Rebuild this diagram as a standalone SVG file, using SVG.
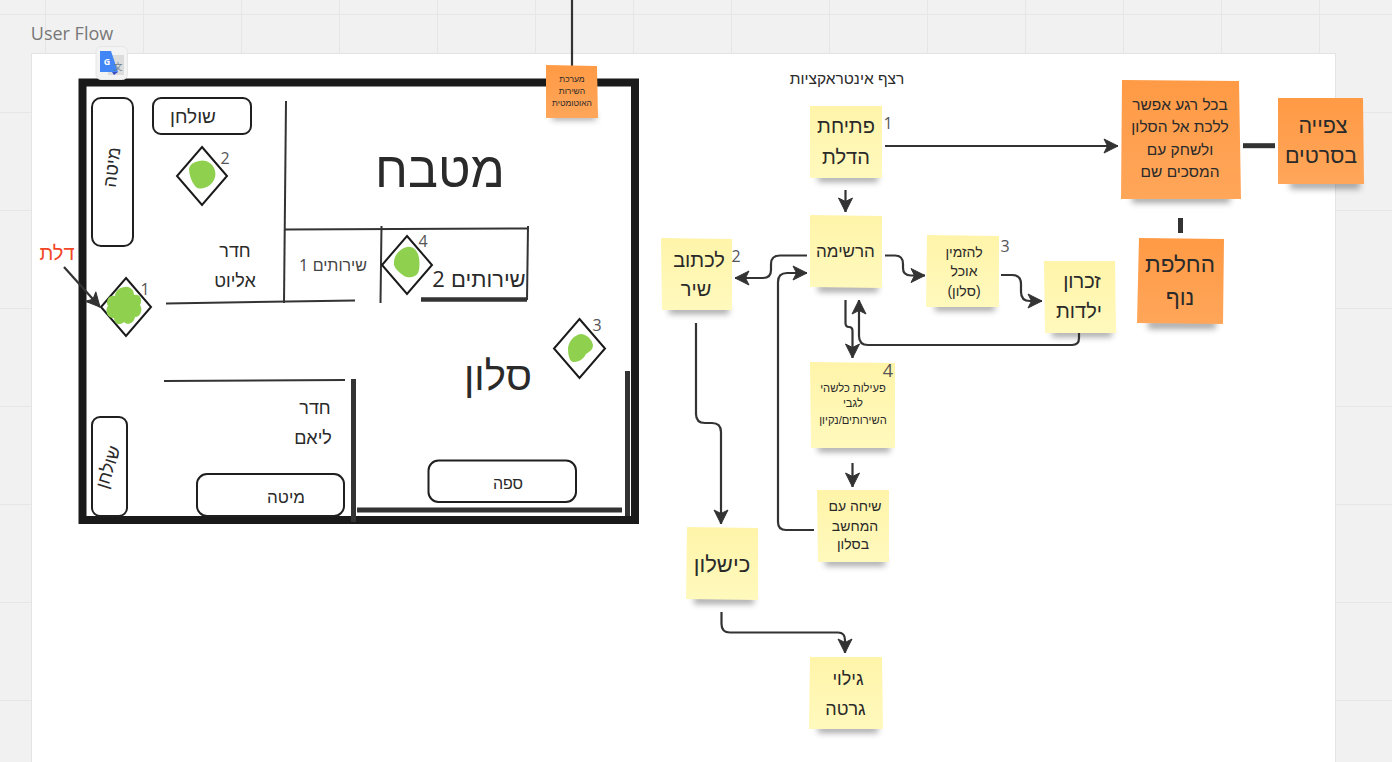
<svg xmlns="http://www.w3.org/2000/svg" width="1392" height="762" viewBox="0 0 1392 762">
<defs>
<pattern id="grid" x="45" y="14" width="98" height="98" patternUnits="userSpaceOnUse"><path d="M0 0H98M0 0V98" fill="none" stroke="#e6e6e6" stroke-width="2"/></pattern>
<linearGradient id="y" x1="0" y1="0" x2="0" y2="1"><stop offset="0" stop-color="#fff4a9"/><stop offset="1" stop-color="#fff9bd"/></linearGradient>
<linearGradient id="o" x1="0" y1="0" x2="0" y2="1"><stop offset="0" stop-color="#ff9a45"/><stop offset="1" stop-color="#ffa65a"/></linearGradient>
<filter id="blur" x="-20%" y="-100%" width="140%" height="300%"><feGaussianBlur stdDeviation="3"/></filter>
<marker id="a" markerUnits="userSpaceOnUse" viewBox="0 0 16 16" refX="15" refY="8" markerWidth="16" markerHeight="16" orient="auto-start-reverse"><path d="M1 1 L15 8 L1 15 L4.500 8 Z" fill="#333" stroke="#333" stroke-linejoin="round"/></marker>
<style>
.t{font-family:"Liberation Sans","Noto Sans",sans-serif;direction:rtl;text-anchor:middle;fill:#2a2a2a}
.n{font-family:"Open Sans","Noto Sans",sans-serif;font-size:16px;fill:#555;text-anchor:middle}
.d0{font-family:"Open Sans","Noto Sans",sans-serif}
.w{fill:none;stroke:#333;stroke-width:2}
.wk{fill:none;stroke:#333;stroke-width:5}
.b{fill:#fff;stroke:#1f1f1f;stroke-width:2}
.d{fill:#fff;stroke:#1a1a1a;stroke-width:2}
.g{fill:#8fd14f}
.c{fill:none;stroke:#333;stroke-width:2.2}
.s{fill:#333;opacity:.42;filter:url(#blur)}
.ny{fill:url(#y)}
.no{fill:url(#o)}
</style>
</defs>
<rect width="1392" height="762" fill="#f1f1f1"/>
<rect width="1392" height="762" fill="url(#grid)"/>
<rect x="31.5" y="53.5" width="1304" height="720" fill="#fff" stroke="#e4e4e4"/>
<text x="72" y="40" style="font-family:'Open Sans','Noto Sans',sans-serif;font-size:18px;fill:#777;text-anchor:middle">User Flow</text>

<g id="floorplan">
<rect x="82.5" y="82.5" width="552.5" height="437.5" fill="none" stroke="#1a1a1a" stroke-width="8"/>
<path class="w" d="M286 101L284 303"/>
<path class="w" d="M285 229.5L528 228.5"/>
<path class="w" d="M381.500 226L380.500 303"/>
<path class="w" d="M528 226L527 300"/>
<path class="w" d="M166 303.500L355 300.500"/>
<path class="w" d="M164 381L345 380"/>
<path d="M421 299.500H527" fill="none" stroke="#333" stroke-width="4.500"/>
<path class="wk" d="M353.500 379V522"/>
<path class="wk" d="M357 510H622"/>
<path class="wk" d="M627.500 371V516"/>
</g>
<g id="bed-left"><rect class="b" x="92" y="98" width="41" height="148" rx="9"/><text class="t" transform="translate(118 168) rotate(-83)" font-size="18">מיטה</text></g>
<g id="table-top"><rect class="b" x="153" y="98" width="98" height="36" rx="8"/><text class="t" x="193" y="123" font-size="19">שולחן</text></g>
<g id="table-bottom"><rect class="b" x="92" y="417" width="35" height="99" rx="8"/><text class="t" transform="translate(114 469) rotate(-72)" font-size="18">שולחן</text></g>
<g id="bed-bottom"><rect class="b" x="197" y="474" width="147" height="42" rx="10"/><text class="t" x="286" y="503" font-size="17">מיטה</text></g>
<g id="sofa"><rect class="b" x="428.500" y="460.500" width="147.500" height="41.500" rx="10"/><text class="t" x="508" y="489" font-size="16">ספה</text></g>
<g id="room-labels">
<text class="t" x="235" y="257" font-size="18">חדר</text><text class="t" x="235" y="287" font-size="18">אליוט</text>
<text class="t" x="315" y="414" font-size="18">חדר</text><text class="t" x="313" y="444" font-size="18">ליאם</text>
<text class="t" x="440" y="187" font-size="50">מטבח</text>
<text class="t" x="498" y="390" font-size="40">סלון</text>
<text class="t" x="333" y="271" font-size="16" style="fill:#444">שירותים <tspan class="d0">1</tspan></text>
<text class="t" x="479" y="287" font-size="22">שירותים <tspan class="d0">2</tspan></text>
<text class="t" x="57" y="260" font-size="20" style="fill:#f24726">דלת</text>
</g>
<g id="spot-1"><path class="d" d="M126 278L151 307L126 336L101 307Z"/><path class="g" d="M125 287C130 286 134 290 134 295C140 293 143 300 140 305C143 309 141 317 135 317C134 323 128 326 124 322C120 326 114 324 114 318C108 319 104 311 108 306C105 301 109 294 115 296C115 291 120 287 125 287Z"/><text class="n" x="145" y="295">1</text></g>
<g id="spot-2"><path class="d" d="M202 147L227 176L202 205L177 176Z"/><path class="g" d="M199 161C205 159 212 163 214 168C217 174 215 181 210 185C205 189 198 190 195 186C191 181 189 174 189 169C190 164 194 162 199 161Z"/><text class="n" x="225" y="164">2</text></g>
<g id="spot-3"><path class="d" d="M579.500 319L605 348.500L579.500 378L554 348.500Z"/><path class="g" d="M581 334C586 334 592 339 593 345C593 350 589 352 586 354C584 358 580 362 574 362C569 362 568 354 568 348C569 341 574 335 581 334Z"/><text class="n" x="597" y="331">3</text></g>
<g id="spot-4"><path class="d" d="M407 236L432 265L407 294L382 265Z"/><path class="g" d="M407 247C412 246 416 249 418 254C420 260 420 268 418 273C415 278 408 278 404 276C399 272 393 268 394 262C394 255 401 248 407 247Z"/><text class="n" x="423" y="247">4</text></g>

<g id="translate-icon">
<rect x="96" y="46.500" width="31.500" height="33" rx="5" fill="#f3f3f3" stroke="#e6e6e6"/>
<rect x="108" y="55" width="16" height="20" fill="#dcdcdc"/>
<path d="M100 51H111L118 72H100Z" fill="#4285f4"/>
<path d="M112 72H118L114 75Z" fill="#3b4fc4"/>
<text x="107" y="65" style="font-family:'Open Sans','Noto Sans',sans-serif;font-size:9px;font-weight:700;fill:#fff;text-anchor:middle">G</text>
<text x="118" y="70" style="font-family:'Noto Sans CJK SC',sans-serif;font-size:9px;fill:#6d7f8f;text-anchor:middle">文</text>
</g>

<g id="connectors">
<path class="c" d="M572 0V68"/>
<path class="c" d="M64 267L100 307" marker-end="url(#a)"/>
<path class="c" d="M885 146H1118" marker-end="url(#a)"/>
<path class="c" d="M845.500 190V212" marker-end="url(#a)"/>
<path class="c" d="M807 255.500H780Q771 255.500 771 264V270Q771 278 763 278H735" marker-end="url(#a)"/>
<path class="c" d="M814 530H786Q778 530 778 522V282Q778 273 787 273H807" marker-end="url(#a)"/>
<path class="c" d="M885 255.500H895Q903 255.500 903 264V268Q903 275.500 911 275.500H925" marker-end="url(#a)"/>
<path class="c" d="M1001 275H1012Q1021 275 1021 284V292Q1021 301 1030 301H1042" marker-end="url(#a)"/>
<path class="c" d="M1079 329V338Q1079 345 1072 345H868Q859 345 859 336V300" marker-end="url(#a)"/>
<path class="c" d="M845.500 300V323Q845.500 327 849 327Q852.500 327 852.500 331V358" marker-end="url(#a)"/>
<path class="c" d="M852.500 463V487" marker-end="url(#a)"/>
<path class="c" d="M696 323V414Q696 423 705 423H712Q721 423 721 432V524" marker-end="url(#a)"/>
<path class="c" d="M721.500 612V624Q721.500 632.500 730 632.500H838Q845 632.500 845 640V653" marker-end="url(#a)"/>
<path d="M1243 145.700H1275" fill="none" stroke="#333" stroke-width="5"/>
<path d="M1180.500 218V233" fill="none" stroke="#333" stroke-width="5"/>
</g>

<g id="note-automation"><rect class="s" x="552" y="113" width="44" height="7"/><path class="no" d="M546 65L597 66L598 118L546 118Z"/>
<text class="t" x="572" y="82" font-size="8.500">מערכת</text><text class="t" x="572" y="94" font-size="8.500">השירות</text><text class="t" x="572" y="106" font-size="8.500">האוטומטית</text></g>
<text class="t" x="847" y="84" font-size="15.500" id="title">רצף אינטראקציות</text>
<g id="note-door"><rect class="s" x="818" y="174" width="60" height="8"/><path class="ny" d="M810 106L882 106L882 178L810 178Z"/><text class="t" x="846" y="133" font-size="20">פתיחת</text><text class="t" x="846" y="164" font-size="20">הדלת</text><text class="n" x="888" y="129">1</text></g>
<g id="note-list"><rect class="s" x="818" y="284" width="60" height="8"/><path class="ny" d="M810 215L882 216L882 288L810 287Z"/><text class="t" x="845.500" y="257" font-size="17">הרשימה</text></g>
<g id="note-song"><rect class="s" x="669" y="306" width="60" height="8"/><path class="ny" d="M661 238L732 239L732 310L662 310Z"/><text class="t" x="699" y="267" font-size="20">לכתוב</text><text class="t" x="696" y="296" font-size="20">שיר</text><text class="n" x="736" y="262">2</text></g>
<g id="note-food"><rect class="s" x="935" y="303" width="60" height="8"/><path class="ny" d="M927 235L999 236L999 307L926 307Z"/><text class="t" x="964" y="257" font-size="14">להזמין</text><text class="t" x="964" y="276" font-size="14">אוכל</text><text class="t" x="964" y="296" font-size="14">(סלון)</text><text class="n" x="1005" y="252">3</text></g>
<g id="note-memory"><rect class="s" x="1052" y="329" width="60" height="8"/><path class="ny" d="M1044 261L1115 261L1116 333L1045 333Z"/><text class="t" x="1082" y="288" font-size="20">זכרון</text><text class="t" x="1079" y="318" font-size="20">ילדות</text></g>
<g id="note-activity"><rect class="s" x="818" y="444" width="72" height="8"/><path class="ny" d="M810 362L895 363L895 448L811 448Z"/><text class="t" x="853" y="392" font-size="11.200">פעילות כלשהי</text><text class="t" x="853" y="407" font-size="11.200">לגבי</text><text class="t" x="853" y="424" font-size="11.200">השירותים/נקיון</text><text class="n" x="888" y="377" style="font-size:18px">4</text></g>
<g id="note-computer"><rect class="s" x="825" y="558" width="60" height="8"/><path class="ny" d="M817 490L889 490L889 562L818 562Z"/><text class="t" x="855" y="511" font-size="14">שיחה עם</text><text class="t" x="855" y="531" font-size="14">המחשב</text><text class="t" x="853" y="549" font-size="14">בסלון</text></g>
<g id="note-fail"><rect class="s" x="694" y="596" width="60" height="8"/><path class="ny" d="M687 527L758 528L758 600L686 599Z"/><text class="t" x="722" y="572" font-size="22">כישלון</text></g>
<g id="note-greta"><rect class="s" x="818" y="725" width="60" height="8"/><path class="ny" d="M810 657L882 657L883 729L809 729Z"/><text class="t" x="848" y="685" font-size="18">גילוי</text><text class="t" x="845.500" y="715" font-size="18">גרטה</text></g>
<g id="note-anytime"><rect class="s" x="1132" y="194" width="98" height="9"/><path class="no" d="M1122 80L1239 81L1241 199L1121 199Z"/><text class="t" x="1180" y="110" font-size="15.500">בכל רגע אפשר</text><text class="t" x="1180" y="132" font-size="15.500">ללכת אל הסלון</text><text class="t" x="1180" y="155" font-size="15.500">ולשחק עם</text><text class="t" x="1180" y="177" font-size="15.500">המסכים שם</text></g>
<g id="note-movies"><rect class="s" x="1290" y="180" width="70" height="9"/><path class="no" d="M1278 98L1363 98L1364 184L1278 184Z"/><text class="t" x="1323" y="133" font-size="21.500">צפייה</text><text class="t" x="1321" y="163" font-size="21.500">בסרטים</text></g>
<g id="note-scenery"><rect class="s" x="1148" y="320" width="68" height="9"/><path class="no" d="M1139 238L1224 239L1223 324L1137 323Z"/><text class="t" x="1180" y="272" font-size="22.500">החלפת</text><text class="t" x="1180" y="305" font-size="22.500">נוף</text></g>
</svg>
